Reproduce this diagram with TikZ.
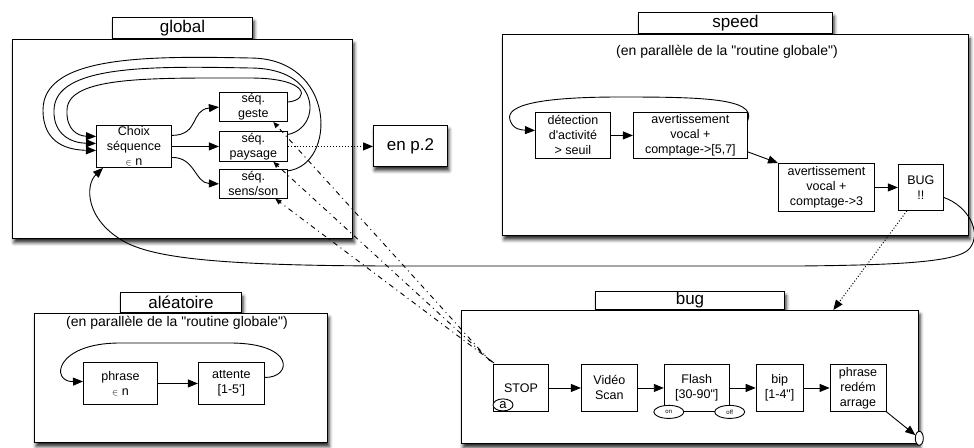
\documentclass[tikz,border=0pt]{standalone}
\usepackage{fontspec}
\setmainfont{Liberation Sans}[Ligatures=TeXOff]
\usepackage{tikz}
\usetikzlibrary{
    arrows.meta,
    positioning,
    calc,
    shapes.geometric,
    shadows.blur
}

\begin{document}
\begin{tikzpicture}[
    x=1pt, y=-1pt,
    node distance=26pt,
    every node/.style={font=\fontsize{12.5}{15}\selectfont},
    ombre/.style={
        blur shadow={shadow xshift=1.5pt, shadow yshift=-4pt,
            shadow blur radius=3.5pt, shadow opacity=85}
    },
    cadre/.style={
        draw,
        line width=1.3pt,
        fill=white,
        anchor=north west,
        inner sep=0pt,
        ombre
    },
    onglet/.style={
        draw,
        line width=1pt,
        fill=white,
        anchor=south west,
        inner sep=0pt,
        font=\fontsize{17}{19}\selectfont,
        ombre
    },
    bloc/.style={
        draw,
        line width=0.9pt,
        fill=white,
        inner sep=0pt,
        align=center
    },
    bulle/.style={
        draw,
        ellipse,
        line width=0.9pt,
        fill=white,
        inner sep=0pt
    },
    soustitre/.style={font=\fontsize{14}{16}\selectfont},
    fleche/.style={
        -{Triangle[length=10pt,width=8pt]},
        line width=0.9pt
    },
    pointille/.style={
        -{Triangle[length=10pt,width=8pt]},
        dotted,
        line width=1pt
    },
    tiret/.style={
        -{Triangle[length=6pt,width=5pt]},
        dash pattern=on 5pt off 4pt on 1pt off 4pt,
        line width=0.9pt
    }
]

\useasboundingbox (0,0) rectangle (974,447);

\node[onglet, minimum width=140pt, minimum height=21pt] (tglobal) at (112,39) {global};
\node[cadre, minimum width=340pt, minimum height=199pt] (fglobal) at (12,39) {};

\node[onglet, minimum width=194pt, minimum height=21pt] (tspeed) at (638,34) {speed};
\node[cadre, minimum width=466pt, minimum height=201pt] (fspeed) at (502,34) {};

\node[onglet, minimum width=121pt, minimum height=20pt] (talea) at (120,313) {aléatoire};
\node[cadre, minimum width=293pt, minimum height=129pt] (falea) at (34,313) {};

\node[onglet, minimum width=189pt, minimum height=18pt] (tbug) at (595,310) {bug};
\node[cadre, minimum width=457pt, minimum height=133pt] (fbug) at (461,310) {};

\node[bloc, anchor=north west, minimum width=75pt, minimum height=42pt] (choix) at (96,125)
    {Choix\\séquence\\{\small$\in$} n};
\node[bloc, right=47pt of choix, minimum width=68pt, minimum height=30pt] (paysage) {séq.\\paysage};
\node[bloc, above=9pt of paysage, minimum width=68pt, minimum height=29pt] (geste) {séq.\\geste};
\node[bloc, below=7pt of paysage, minimum width=68pt, minimum height=29pt] (sensson) {séq.\\sens/son};
\node[bloc, anchor=north west, minimum width=74pt, minimum height=41pt,
    font=\fontsize{17}{19}\selectfont, ombre] (enp) at (373,125) {en p.2};

\node[soustitre] (stspeed) at (727,52) {(en parallèle de la "routine globale")};
\node[bloc, anchor=north west, minimum width=75pt, minimum height=46pt] (detection) at (535,112)
    {détection\\d'activité\\> seuil};
\node[bloc, right=22pt of detection, minimum width=114pt, minimum height=46pt] (avert1)
    {avertissement\\vocal +\\comptage->[5,7]};
\node[bloc, anchor=north west, minimum width=96pt, minimum height=48pt] (avert2) at (778,163)
    {avertissement\\vocal +\\comptage->3};
\node[bloc, right=23pt of avert2, minimum width=45pt, minimum height=46pt] (bugbox) {BUG\\!!};

\node[soustitre] (stalea) at (177,323) {(en parallèle de la "routine globale")};
\node[bloc, anchor=north west, minimum width=74pt, minimum height=42pt] (phrase) at (83,362)
    {phrase\\{\small$\in$} n};
\node[bloc, right=40pt of phrase, minimum width=66pt, minimum height=42pt] (attente) {attente\\{}[1-5']};

\node[bloc, anchor=north west, minimum width=55pt, minimum height=47pt] (stop) at (493,364) {STOP};
\node[bloc, right=32pt of stop, minimum width=56pt, minimum height=47pt] (video) {Vidéo\\Scan};
\node[bloc, right=of video, minimum width=65pt, minimum height=47pt] (flash) {Flash\\{}[30-90"]};
\node[bloc, right=of flash, minimum width=47pt, minimum height=47pt] (bip) {bip\\{}[1-4"]};
\node[bloc, right=of bip, minimum width=56pt, minimum height=47pt] (redem) {phrase\\redém\\arrage};
\node[bulle, minimum width=20pt, minimum height=12pt, font=\fontsize{13}{15}\selectfont] (a)
    at ([xshift=10pt,yshift=7pt]stop.south west) {a};
\node[bulle, minimum width=30pt, minimum height=13pt, font=\fontsize{6}{7}\selectfont] (on)
    at ([xshift=5pt]flash.south west) {on};
\node[bulle, minimum width=30pt, minimum height=13pt, font=\fontsize{6}{7}\selectfont] (off)
    at (flash.south east) {off};
\node[bulle, minimum width=8pt, minimum height=14pt] (fin) at ([yshift=6pt]fbug.south east) {};

\draw[fleche] ([yshift=11pt]choix.east) .. controls (200,135) and (190,110) .. (geste.west);
\draw[fleche] (choix.east) -- (choix.east -| paysage.west);
\draw[fleche] ([yshift=-11pt]choix.east) .. controls (195,157) and (195,183) .. (sensson.west);
\draw[fleche] ([yshift=5pt]geste.east) .. controls (310,100) and (310,78) .. (250,78)
    .. controls (150,78) and (68,76) .. (67,110) .. controls (66,130) and (78,136) .. ([yshift=10pt]choix.west);
\draw[fleche] ([yshift=12pt]paysage.east) .. controls (322,128) and (322,68) .. (250,68)
    .. controls (150,66) and (55,65) .. (54,110) .. controls (53,135) and (72,143) .. ([yshift=3pt]choix.west);
\draw[fleche] ([yshift=13pt]sensson.east) .. controls (337,165) and (337,58) .. (250,58)
    .. controls (150,56) and (43,55) .. (43,110) .. controls (43,145) and (70,150) .. ([yshift=-4pt]choix.west);
\draw[pointille] (paysage.east) -- (paysage.east -| enp.west);

\draw[fleche] ([yshift=15pt]avert1.east) .. controls (757,98) and (700,97) .. (620,97)
    .. controls (540,97) and (505,105) .. (510,120) .. controls (513,130) and (522,130) .. ([yshift=5pt]detection.west);
\draw[fleche] (detection.east) -- (detection.east -| avert1.west);
\draw[fleche] ([yshift=7pt]avert1.south east) -- (avert2.north west);
\draw[fleche] (avert2.east) -- (avert2.east -| bugbox.west);
\draw[fleche] ([yshift=-10pt]bugbox.east) .. controls (968,206) and (982,232) .. (970,248)
    .. controls (960,262) and (900,265) .. (800,266) -- (400,266)
    .. controls (220,266) and (155,258) .. (125,242) .. controls (85,220) and (85,185) .. ([xshift=7pt]choix.south west);
\draw[pointille] ([xshift=-14pt]bugbox.south) -- ([xshift=-86pt]fbug.north east);

\draw[fleche] ([yshift=6pt]attente.east) .. controls (292,378) and (296,343) .. (230,343) -- (120,343)
    .. controls (55,343) and (50,382) .. ([yshift=2pt]phrase.west);
\draw[fleche] (phrase) -- (attente);

\draw[fleche] (stop) -- (video);
\draw[fleche] (video) -- (flash);
\draw[fleche] (flash) -- (bip);
\draw[fleche] (bip) -- (redem);
\draw[fleche] (redem.south east) -- (fin);

\draw[tiret] ([xshift=-3pt,yshift=3pt]stop.north west) -- ([xshift=20pt]geste.south);
\draw[tiret] ([xshift=-1pt,yshift=2pt]stop.north west) -- ([xshift=20pt]paysage.south);
\draw[tiret] ([xshift=1pt,yshift=1pt]stop.north west) -- ([xshift=22pt]sensson.south);

\end{tikzpicture}
\end{document}
